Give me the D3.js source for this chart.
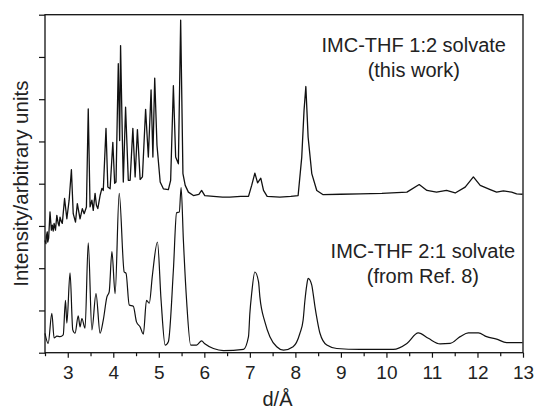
<!DOCTYPE html>
<html>
<head>
<meta charset="utf-8">
<script src="https://cdn.jsdelivr.net/npm/d3@7"></script>
<style>
  html, body { margin: 0; padding: 0; background: #fff; }
  svg { display: block; font-family: "Liberation Sans", Arial, sans-serif; }
  .axis text { fill: #222; }
</style>
</head>
<body>
<svg id="chart" width="536" height="409"></svg>
<script>
// ── Data ──────────────────────────────────────────────────────────────────────

// IMC-THF 1:2 solvate (this work), upper pattern
const topD = [2.50, 2.52, 2.53, 2.55, 2.56, 2.58, 2.61, 2.64, 2.66, 2.68, 2.70, 2.73, 2.76, 2.79, 2.81,
  2.83, 2.86, 2.88, 2.93, 2.98, 3.03, 3.08, 3.12, 3.17, 3.21, 3.27, 3.32, 3.36, 3.41, 3.45, 3.49,
  3.53, 3.56, 3.60, 3.63, 3.66, 3.71, 3.75, 3.78, 3.84, 3.88, 3.93, 3.99, 4.03, 4.06, 4.11, 4.14,
  4.16, 4.20, 4.22, 4.27, 4.33, 4.37, 4.43, 4.48, 4.53, 4.59, 4.64, 4.71, 4.77, 4.83, 4.87, 4.91,
  4.96, 5.03, 5.10, 5.21, 5.26, 5.32, 5.37, 5.43, 5.48, 5.53, 5.58, 5.65, 5.76, 5.88, 5.94, 6.01,
  6.20, 6.40, 6.56, 6.80, 6.97, 7.04, 7.11, 7.17, 7.24, 7.30, 7.38, 7.66, 7.90, 8.06, 8.14, 8.19,
  8.23, 8.28, 8.36, 8.47, 8.61, 9.00, 9.42, 9.90, 10.45, 10.72, 10.89, 11.10, 11.32, 11.51, 11.73,
  11.91, 12.06, 12.28, 12.42, 12.57, 12.75, 12.86, 12.99];
const topI = [2.66, 2.58, 2.76, 2.86, 2.62, 2.71, 3.33, 2.90, 3.02, 2.88, 3.06, 2.90, 3.25, 3.06, 3.00,
  3.21, 3.10, 3.06, 3.65, 3.17, 3.61, 4.33, 3.29, 3.09, 3.53, 3.17, 3.41, 3.29, 3.45, 5.77, 3.45,
  3.61, 3.37, 3.77, 3.49, 3.41, 3.72, 3.89, 3.84, 5.31, 3.92, 3.88, 4.98, 4.01, 4.04, 6.84, 5.02,
  7.27, 5.02, 4.04, 5.81, 4.08, 4.08, 5.31, 4.16, 5.28, 4.10, 4.16, 5.76, 4.63, 6.22, 4.63, 6.50,
  4.91, 4.04, 3.88, 3.86, 4.08, 6.32, 4.63, 4.47, 7.87, 4.24, 3.96, 3.80, 3.72, 3.75, 3.84, 3.72,
  3.70, 3.68, 3.68, 3.70, 3.70, 3.96, 4.25, 4.02, 4.13, 3.84, 3.70, 3.68, 3.70, 3.72, 4.63, 5.73,
  6.30, 5.10, 4.24, 3.84, 3.74, 3.75, 3.76, 3.77, 3.80, 3.98, 3.84, 3.80, 3.84, 3.78, 3.92,
  4.16, 3.96, 3.86, 3.80, 3.83, 3.80, 3.76, 3.75];

// IMC-THF 2:1 solvate (from Ref. 8), lower pattern
const bottomD = [2.50, 2.57, 2.65, 2.70, 2.76, 2.83, 2.90, 2.95, 2.98, 3.05, 3.11, 3.16, 3.23, 3.27,
  3.31, 3.38, 3.45, 3.53, 3.62, 3.71, 3.78, 3.86, 3.91, 3.97, 4.04, 4.13, 4.24, 4.28, 4.35, 4.44,
  4.51, 4.59, 4.66, 4.73, 4.79, 4.86, 4.97, 5.05, 5.14, 5.21, 5.32, 5.39, 5.45, 5.49, 5.54, 5.61,
  5.70, 5.83, 5.94, 6.01, 6.20, 6.42, 6.86, 6.97, 7.00, 7.04, 7.11, 7.19, 7.22, 7.33, 7.44, 7.59,
  7.74, 7.95, 8.10, 8.17, 8.21, 8.25, 8.28, 8.36, 8.39, 8.43, 8.48, 8.54, 8.69, 8.91, 9.42, 10.15,
  10.45, 10.70, 10.92, 11.18, 11.40, 11.62, 11.80, 12.02, 12.20, 12.42, 12.64, 12.99];
const bottomI = [0.46, 0.22, 0.93, 0.35, 0.39, 0.38, 0.42, 1.24, 0.70, 1.89, 0.54, 0.46, 0.87, 0.61,
  0.81, 0.58, 2.60, 0.54, 1.40, 0.46, 0.77, 1.32, 1.44, 2.39, 1.40, 3.77, 1.91, 1.88, 1.13, 1.10,
  0.73, 0.61, 0.44, 1.24, 1.17, 1.84, 2.62, 1.24, 0.18, 0.26, 1.95, 3.31, 3.33, 3.91, 2.66, 1.24,
  0.18, 0.18, 0.28, 0.21, 0.10, 0.05, 0.08, 0.38, 0.93, 1.40, 1.91, 1.68, 1.32, 0.73, 0.38, 0.14,
  0.06, 0.14, 0.46, 0.77, 1.24, 1.60, 1.76, 1.60, 1.40, 1.09, 0.77, 0.46, 0.18, 0.10, 0.08, 0.08,
  0.22, 0.47, 0.34, 0.21, 0.22, 0.38, 0.47, 0.47, 0.38, 0.32, 0.24, 0.24];

const xMajorTicks = [3, 4, 5, 6, 7, 8, 9, 10, 11, 12, 13];
const xMinorTicks = [2.5, 3.5, 4.5, 5.5, 6.5, 7.5, 8.5, 9.5, 10.5, 11.5, 12.5];
const yTicks = [0, 1, 2, 3, 4, 5, 6, 7, 8];

const labels = [
  { lines: ['IMC-THF 1:2 solvate', '(this work)'], d: 10.6, i: 7.12 },
  { lines: ['IMC-THF 2:1 solvate', '(from Ref. 8)'], d: 10.8, i: 2.23 },
];

// ── Layout ────────────────────────────────────────────────────────────────────

const W = 536, H = 409;
const margin = { top: 14.7, right: 13, bottom: 56.3, left: 45 };
const innerW = W - margin.left - margin.right;
const innerH = H - margin.top - margin.bottom;

const svg = d3.select('#chart');
const g = svg.append('g').attr('transform', `translate(${margin.left},${margin.top})`);

const x = d3.scaleLinear().domain([2.5, 13]).range([0, innerW]);
const y = d3.scaleLinear().domain([0, 8]).range([innerH, 0]);

// ── Axes ──────────────────────────────────────────────────────────────────────

const xAxis = g.append('g').attr('class', 'axis')
  .attr('transform', `translate(0,${innerH})`)
  .call(d3.axisBottom(x).tickValues(xMajorTicks).tickSize(5).tickSizeOuter(0).tickPadding(8)
    .tickFormat(d3.format('d')));
xAxis.selectAll('text').attr('font-size', '19px').attr('dy', '0.72em');

g.append('g').attr('class', 'axis')
  .attr('transform', `translate(0,${innerH})`)
  .call(d3.axisBottom(x).tickValues(xMinorTicks).tickSize(3.5).tickSizeOuter(0).tickFormat(''));

g.append('g').attr('class', 'axis')
  .call(d3.axisLeft(y).tickValues(yTicks).tickSize(6).tickSizeOuter(0).tickFormat(''));

g.selectAll('.axis .domain').remove();
g.selectAll('.axis line').attr('stroke', '#111').attr('stroke-width', 1.2);

// frame
g.append('rect')
  .attr('x', 0).attr('y', 0).attr('width', innerW).attr('height', innerH)
  .attr('fill', 'none').attr('stroke', '#111').attr('stroke-width', 1.3);

// ── Traces ────────────────────────────────────────────────────────────────────

const line = d3.line().x(d => x(d[0])).y(d => y(d[1]));

g.append('path')
  .datum(d3.zip(topD, topI))
  .attr('fill', 'none').attr('stroke', '#111').attr('stroke-width', 1.3)
  .attr('stroke-linejoin', 'round')
  .attr('d', line);

g.append('path')
  .datum(d3.zip(bottomD, bottomI))
  .attr('fill', 'none').attr('stroke', '#111').attr('stroke-width', 1.2)
  .attr('stroke-linejoin', 'round')
  .attr('d', line.curve(d3.curveMonotoneX));

// ── Text ──────────────────────────────────────────────────────────────────────

labels.forEach(l => {
  const t = g.append('text')
    .attr('x', x(l.d)).attr('y', y(l.i))
    .attr('text-anchor', 'middle')
    .attr('font-size', '20px').attr('fill', '#222');
  l.lines.forEach((s, k) => {
    t.append('tspan').attr('x', x(l.d)).attr('dy', k === 0 ? 0 : 25).text(s);
  });
});

svg.append('text')
  .attr('x', 277.5).attr('y', 406)
  .attr('text-anchor', 'middle')
  .attr('font-size', '20px').attr('fill', '#222')
  .text('d/Å');

svg.append('text')
  .attr('transform', `translate(27.5,${margin.top + innerH / 2}) rotate(-90)`)
  .attr('text-anchor', 'middle')
  .attr('font-size', '20.5px').attr('fill', '#222')
  .text('Intensity/arbitrary units');
</script>
</body>
</html>
